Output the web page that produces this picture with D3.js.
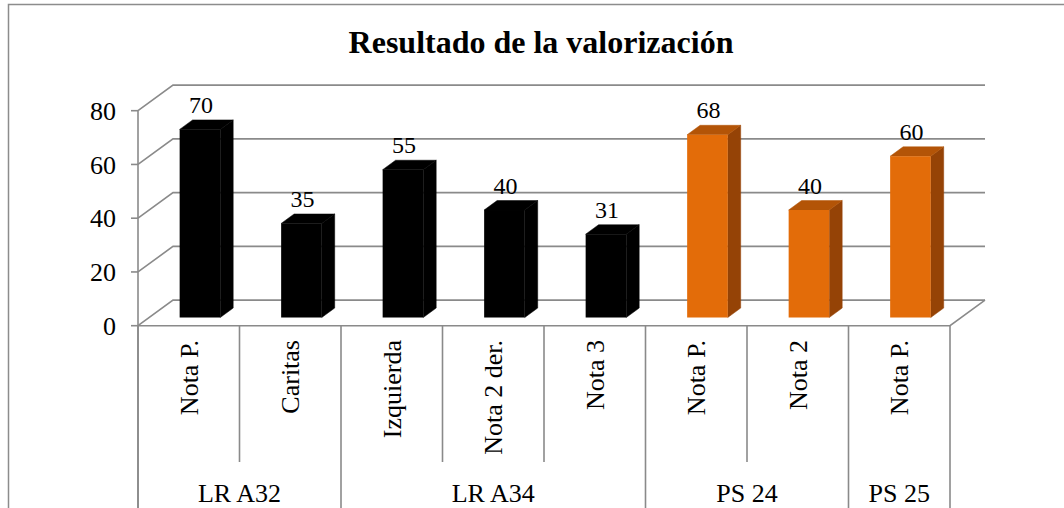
<!DOCTYPE html>
<html>
<head>
<meta charset="utf-8">
<script src="https://cdn.jsdelivr.net/npm/d3@7"></script>
<style>
  html, body { margin: 0; padding: 0; background: #fff; }
</style>
</head>
<body>
<div id="chart"></div>
<script>
// data
const categories = ["Nota P.", "Caritas", "Izquierda", "Nota 2 der.", "Nota 3", "Nota P.", "Nota 2", "Nota P."];
const values = [70, 35, 55, 40, 31, 68, 40, 60];
const groupOf = [0, 0, 1, 1, 1, 2, 2, 3];
const groups = ["LR A32", "LR A34", "PS 24", "PS 25"];
const seriesKind = ["black", "black", "black", "black", "black", "orange", "orange", "orange"];
const yTicks = [0, 20, 40, 60, 80];
const title = "Resultado de la valorización";

const width = 1064, height = 508;
const depthX = 35, depthY = -25.6;   // oblique offset of the back wall
const barFront = 0.32, barBack = 0.69; // bar depth as fraction of floor depth
const gridColor = "#8a8a8a";
const serif = "'Liberation Serif', 'Times New Roman', Tinos, 'DejaVu Serif', serif";

const faces = {
  black: { front: "#000", top: "#000", side: "#000" },
  orange: { front: "#e36c09", top: "#b35407", side: "#954306" }
};

const svg = d3.select("#chart").append("svg")
  .attr("width", width)
  .attr("height", height)
  .attr("font-family", serif)
  .style("display", "block");

// outer chart border
svg.append("rect")
  .attr("x", 8.5).attr("y", 4.5)
  .attr("width", width + 10).attr("height", height + 10)
  .attr("fill", "none")
  .attr("stroke", "#8c8c8c")
  .attr("stroke-width", 1.5);

const x = d3.scaleBand()
  .domain(d3.range(categories.length))
  .range([138, 950]);

const y = d3.scaleLinear()
  .domain([0, 80])
  .range([325.7, 110.7]);

svg.append("text")
  .attr("x", 541).attr("y", 53)
  .attr("text-anchor", "middle")
  .attr("font-family", serif)
  .attr("font-weight", "bold")
  .attr("font-size", 32)
  .text(title);

const x0 = x.range()[0], x1 = x.range()[1];

// walls and gridlines
const grid = svg.append("g")
  .attr("stroke", gridColor)
  .attr("stroke-width", 1.6)
  .attr("fill", "none");

grid.selectAll("path.gl")
  .data(yTicks)
  .join("path")
  .attr("class", "gl")
  .attr("d", d => `M${x0},${y(d)} L${x0 + depthX},${y(d) + depthY} L${x1 + depthX},${y(d) + depthY}`);

// floor front edge and right edge
grid.append("path")
  .attr("d", `M${x0},${y(0)} L${x1},${y(0)} L${x1 + depthX},${y(0) + depthY}`);

// value axis line and ticks
grid.append("line")
  .attr("x1", x0).attr("x2", x0)
  .attr("y1", y(80)).attr("y2", height + 5);

grid.selectAll("line.tk")
  .data(yTicks)
  .join("line")
  .attr("class", "tk")
  .attr("x1", x0 - 7).attr("x2", x0)
  .attr("y1", d => y(d)).attr("y2", d => y(d));

svg.append("g")
  .attr("font-size", 26)
  .attr("font-family", serif)
  .attr("text-anchor", "end")
  .selectAll("text")
  .data(yTicks)
  .join("text")
  .attr("x", 116)
  .attr("y", d => y(d))
  .attr("dy", "0.35em")
  .text(d => d);

// category separators: short inside a group, long at group edges
const edges = d3.range(categories.length + 1);
grid.selectAll("line.sep")
  .data(edges)
  .join("line")
  .attr("class", "sep")
  .attr("x1", i => i < categories.length ? x(i) : x1)
  .attr("x2", i => i < categories.length ? x(i) : x1)
  .attr("y1", y(0))
  .attr("y2", i => (i === 0 || i === categories.length || groupOf[i] !== groupOf[i - 1]) ? height + 5 : 462);

// bars
const bw = x.bandwidth() * 0.4;
const bars = svg.append("g").selectAll("g")
  .data(values.map((v, i) => ({ v, i, kind: seriesKind[i] })))
  .join("g");

function corners(d) {
  const fx = x(d.i) + (x.bandwidth() - bw) / 2 + barFront * depthX;
  const fyb = y(0) + barFront * depthY;
  const fyt = y(d.v) + barFront * depthY;
  const ddx = (barBack - barFront) * depthX, ddy = (barBack - barFront) * depthY;
  return { fx, fyb, fyt, ddx, ddy };
}

bars.append("path")
  .attr("fill", d => faces[d.kind].side)
  .attr("stroke", d => faces[d.kind].side)
  .attr("stroke-width", 0.5)
  .attr("d", d => {
    const c = corners(d);
    const r = c.fx + bw;
    return `M${r},${c.fyb} L${r + c.ddx},${c.fyb + c.ddy} L${r + c.ddx},${c.fyt + c.ddy} L${r},${c.fyt}Z`;
  });

bars.append("path")
  .attr("fill", d => faces[d.kind].top)
  .attr("stroke", d => faces[d.kind].top)
  .attr("stroke-width", 0.5)
  .attr("d", d => {
    const c = corners(d);
    return `M${c.fx},${c.fyt} L${c.fx + c.ddx},${c.fyt + c.ddy} L${c.fx + bw + c.ddx},${c.fyt + c.ddy} L${c.fx + bw},${c.fyt}Z`;
  });

bars.append("rect")
  .attr("fill", d => faces[d.kind].front)
  .attr("x", d => corners(d).fx)
  .attr("y", d => corners(d).fyt)
  .attr("width", bw)
  .attr("height", d => corners(d).fyb - corners(d).fyt);

// value labels
bars.append("text")
  .attr("font-size", 24)
  .attr("font-family", serif)
  .attr("text-anchor", "middle")
  .attr("x", d => corners(d).fx + bw / 2 + 1)
  .attr("y", d => corners(d).fyt + corners(d).ddy - 7)
  .text(d => d.v);

// category labels, rotated
svg.append("g")
  .attr("font-size", 26)
  .attr("font-family", serif)
  .attr("text-anchor", "end")
  .selectAll("text")
  .data(categories)
  .join("text")
  .attr("transform", (d, i) => `translate(${x(i) + x.bandwidth() / 2},340) rotate(-90)`)
  .attr("dy", "0.35em")
  .text(d => d);

// group labels
svg.append("g")
  .attr("font-size", 26)
  .attr("font-family", serif)
  .attr("text-anchor", "middle")
  .selectAll("text")
  .data(groups)
  .join("text")
  .attr("x", (g, gi) => {
    const idx = d3.range(categories.length).filter(i => groupOf[i] === gi);
    return (x(idx[0]) + x(idx[idx.length - 1]) + x.bandwidth()) / 2;
  })
  .attr("y", 502)
  .text(d => d);
</script>
</body>
</html>
